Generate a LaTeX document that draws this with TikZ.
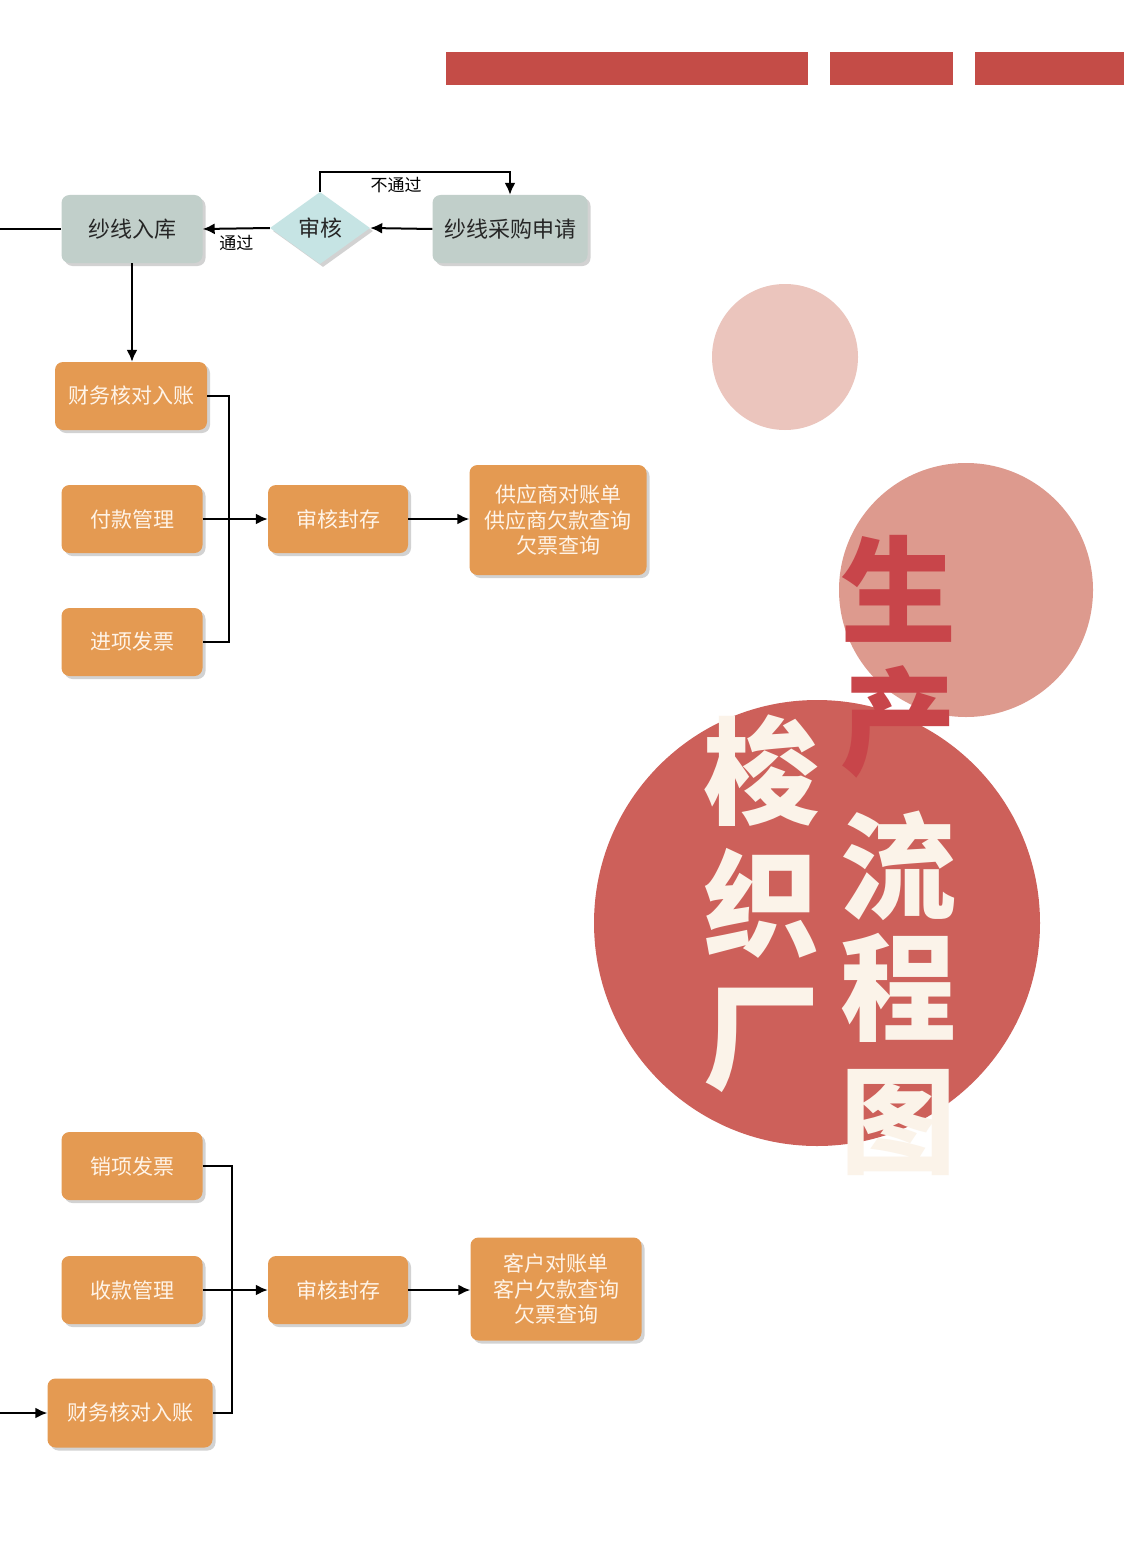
\documentclass[tikz,border=0pt]{standalone}
\usepackage{fontspec}
\newfontfamily\cjk{Noto Sans CJK SC}
\usetikzlibrary{shadows,arrows.meta,shapes.geometric}
\definecolor{barred}{HTML}{C44C47}
\definecolor{greyc}{HTML}{C1CFCA}
\definecolor{diamc}{HTML}{C6E4E4}
\definecolor{orangec}{HTML}{E49A52}
\definecolor{creamt}{HTML}{FFF4E8}
\definecolor{circA}{HTML}{EBC5BD}
\definecolor{circB}{HTML}{DD9A8E}
\definecolor{circC}{HTML}{CD605A}
\definecolor{titred}{HTML}{C8454A}
\definecolor{titcream}{HTML}{FBF3E9}
\tikzset{
  boxshadow/.style={drop shadow={opacity=0.35, shadow xshift=3pt, shadow yshift=-3pt}},
  gbox/.style={rounded corners=8, fill=greyc, minimum width=141, minimum height=68,
    boxshadow, font=\cjk\fontsize{22}{26}\selectfont, text=black!85, inner sep=2},
  dbox/.style={diamond, aspect=1.4, fill=diamc, minimum width=100, minimum height=72,
    inner sep=0, boxshadow, font=\cjk\fontsize{22}{26}\selectfont, text=black!85},
  obox/.style={rounded corners=8, fill=orangec, minimum width=141, minimum height=68,
    boxshadow, font=\cjk\fontsize{21}{25.5}\selectfont, text=creamt, align=center, inner sep=2},
  conn/.style={line width=2, draw=black},
  arr/.style={conn, -{Latex[length=12,width=11]}},
  lab/.style={font=\cjk\fontsize{17}{20}\selectfont, text=black, inner sep=1},
  titchar/.style={font=\cjk\bfseries\fontsize{116}{116}\selectfont, inner sep=0},
  bar/.style={fill=barred, draw=none}
}
\begin{document}
\begin{tikzpicture}[x=1pt,y=-1pt]
\useasboundingbox (0,0) rectangle (1124,1549);
\fill[white] (0,0) rectangle (1124,1549);
% top bars
\fill[bar] (446,52) rectangle (808,85);
\fill[bar] (830,52) rectangle (953,85);
\fill[bar] (975,52) rectangle (1124,85);
% circles
\fill[circA] (785,357) circle (73);
\fill[circB] (966,590) circle (127);
\fill[circC] (817,923) circle (223);
% title characters
\foreach \ch/\cx/\cy/\col/\nm in {生/898/589/titred/a, 产/898/722/titred/b, 流/898/866/titcream/c, 程/898/988/titcream/d, 图/898/1122/titcream/e, 梭/761/771/titcream/f, 织/761/903/titcream/g, 厂/761/1040/titcream/h}{
  \node[titchar, text=\col] (t\nm) at (\cx,\cy) {\ch};
}
% top flow
\node[gbox] (ruku) at (132,229) {纱线入库};
\node[dbox] (shen) at (320,228) {审核};
\node[gbox, minimum width=155] (caigou) at (510,229) {纱线采购申请};
\coordinate (lin) at (0,229);
\draw[conn] (lin) -- (ruku.west);
\draw[arr] (caigou.west) -- (shen.east);
\draw[arr] (shen.west) -- (ruku.east) node[lab, midway, below=5] {通过};
\draw[arr] (shen.north) -- ++(0,-20) -| (caigou.north) node[lab, pos=0.2, below=3] {不通过};
% purchase side
\node[obox, minimum width=152] (caiwuA) at (131,396) {财务核对入账};
\node[obox] (fukuan) at (132,519) {付款管理};
\node[obox] (jinxiang) at (132,642) {进项发票};
\node[obox, minimum width=140] (shenA) at (338,519) {审核封存};
\node[obox, minimum width=177, minimum height=110] (gong) at (558,520) {供应商对账单\\供应商欠款查询\\欠票查询};
\draw[arr] (ruku.south) -- (ruku.south |- caiwuA.north);
\coordinate (busA) at (229,0);
\draw[conn] (caiwuA.east) -- (caiwuA.east -| busA) -- (jinxiang.east -| busA) -- (jinxiang.east);
\draw[arr] (fukuan.east) -- (shenA.west);
\draw[arr] (shenA.east) -- (shenA.east -| gong.west);
% sales side
\node[obox] (xiaoxiang) at (132,1166) {销项发票};
\node[obox] (shoukuan) at (132,1290) {收款管理};
\node[obox, minimum width=165, minimum height=69] (caiwuB) at (130,1413) {财务核对入账};
\node[obox, minimum width=140] (shenB) at (338,1290) {审核封存};
\node[obox, minimum width=171, minimum height=103] (kehu) at (556,1289) {客户对账单\\客户欠款查询\\欠票查询};
\coordinate (busB) at (232,0);
\coordinate (lin2) at (0,1413);
\draw[conn] (xiaoxiang.east) -- (xiaoxiang.east -| busB) -- (caiwuB.east -| busB) -- (caiwuB.east);
\draw[arr] (shoukuan.east) -- (shenB.west);
\draw[arr] (shenB.east) -- (shenB.east -| kehu.west);
\draw[arr] (lin2) -- (caiwuB.west);
\end{tikzpicture}
\end{document}
